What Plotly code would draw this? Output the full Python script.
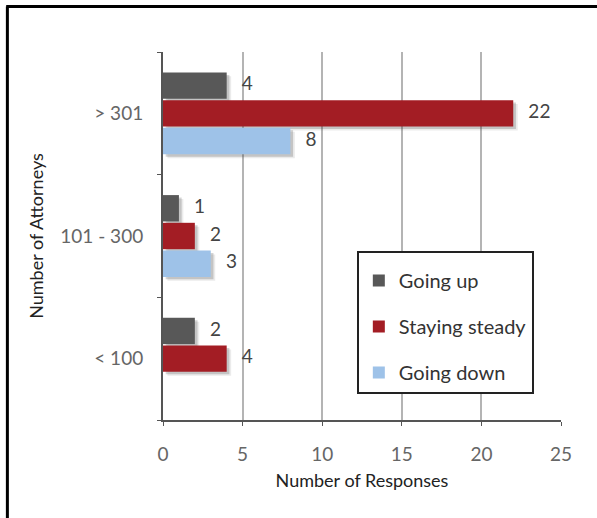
import plotly.graph_objects as go

# Survey responses by firm size
categories = ["< 100", "101 - 300", "> 301"]
series_names = ["Going up", "Staying steady", "Going down"]
going_up = [2, 1, 4]
staying_steady = [4, 2, 22]
going_down = [None, 3, 8]

series_values = [going_up, staying_steady, going_down]
colors = ["#585858", "#a31d24", "#9ec2e8"]
offsets = [0.226, 0.0, -0.226]   # vertical position of each series inside its group
bar_h = 0.215

FONT = "Lato"
y_idx = list(range(len(categories)))

fig = go.Figure()

# soft drop shadows under the bars (two layers for a blurred edge)
for vals, off in zip(series_values, offsets):
    for dx, dy, alpha in [(0.28, -0.032, 0.10), (0.17, -0.02, 0.22)]:
        fig.add_trace(go.Bar(
            y=[i + off + dy for i in y_idx], x=vals, base=dx,
            orientation="h", width=bar_h,
            marker=dict(color=f"rgba(60,60,60,{alpha})", line=dict(width=0)),
            showlegend=False, hoverinfo="skip",
        ))

# the bars themselves
for name, vals, col, off in zip(series_names, series_values, colors, offsets):
    fig.add_trace(go.Bar(
        y=[i + off for i in y_idx], x=vals, name=name,
        orientation="h", width=bar_h,
        marker=dict(color=col, line=dict(width=0)),
        legendgroup=name,
    ))

# value labels to the right of each bar
for vals, off in zip(series_values, offsets):
    xs, ys, ts = [], [], []
    for i, v in zip(y_idx, vals):
        if v is None:
            continue
        xs.append(v + 0.95)
        ys.append(i + off)
        ts.append(str(v))
    fig.add_trace(go.Scatter(
        x=xs, y=ys, text=ts, mode="text", textposition="middle right",
        textfont=dict(family=FONT, size=19, color="#444444"),
        showlegend=False, hoverinfo="skip",
    ))

# outer frame (top and left edges)
fig.add_shape(type="line", xref="paper", yref="paper",
              x0=-0.394, x1=1.2, y0=1.1236, y1=1.1236,
              line=dict(color="#000000", width=3))
fig.add_shape(type="line", xref="paper", yref="paper",
              x0=-0.391, x1=-0.391, y0=1.1236, y1=-0.3,
              line=dict(color="#000000", width=3))

fig.update_layout(
    width=597, height=518,
    margin=dict(l=163, r=36, t=52, b=98),
    paper_bgcolor="white", plot_bgcolor="white",
    barmode="overlay",
    font=dict(family=FONT, color="#333333"),
    xaxis=dict(
        range=[0, 25], tickvals=[0, 5, 10, 15, 20, 25],
        showgrid=True, gridcolor="#b4b4b4", gridwidth=1.5,
        zeroline=False, showline=True, linecolor="#555555", linewidth=2,
        ticks="outside", ticklen=4, tickcolor="#555555",
        ticklabelstandoff=12,
        tickfont=dict(family=FONT, size=19, color="#666666"),
        title=dict(text="Number of Responses", standoff=11,
                   font=dict(family=FONT, size=18, color="#222222")),
        fixedrange=True,
    ),
    yaxis=dict(
        range=[-0.5, 2.5], tickvals=y_idx, ticktext=categories,
        showgrid=False, zeroline=False,
        showline=True, linecolor="#555555", linewidth=2,
        ticks="", ticklabelstandoff=14,
        tickfont=dict(family=FONT, size=19, color="#666666"),
        minor=dict(tick0=-0.5, dtick=1, ticks="outside", ticklen=4,
                   tickcolor="#555555", showgrid=False),
        title=dict(text="Number of Attorneys", standoff=12,
                   font=dict(family=FONT, size=18, color="#222222")),
        fixedrange=True,
    ),
    legend=dict(
        x=0.487, y=0.459, xanchor="left", yanchor="top",
        bgcolor="white", bordercolor="#222222", borderwidth=2,
        font=dict(family=FONT, size=20, color="#333333"),
        title=dict(text=" ", font=dict(size=6)),
        tracegroupgap=17, itemwidth=30, entrywidth=165,
    ),
    showlegend=True,
)

fig.write_html("out.html")
